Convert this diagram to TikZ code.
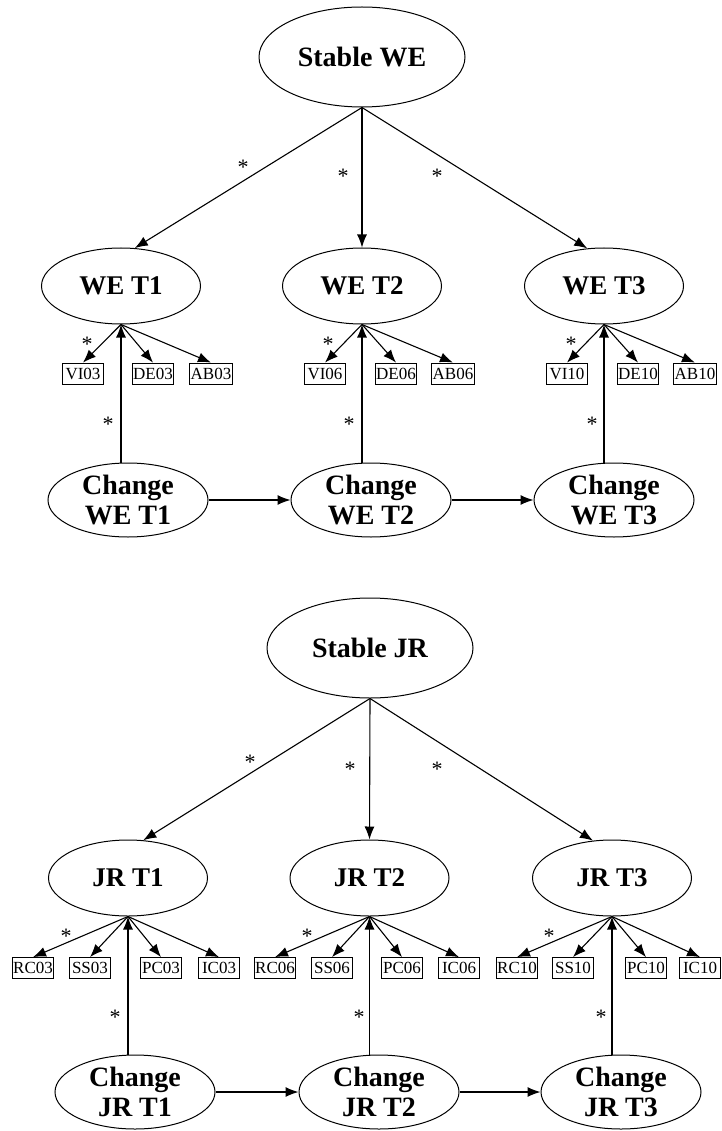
\documentclass[tikz,border=0pt]{standalone}
\usepackage{fontspec}
\setmainfont{Liberation Serif}
\usetikzlibrary{shapes.geometric,arrows.meta}

\begin{document}
\begin{tikzpicture}[x=1pt,y=-1pt]
      \tikzstyle{latent}=[draw,ellipse,line width=1pt,inner sep=0pt,
                          minimum width=159pt,minimum height=76pt,
                          font=\fontsize{27}{30}\selectfont\bfseries]
      \tikzstyle{stable}=[latent,minimum width=206pt,minimum height=100pt,
                          font=\fontsize{28}{30}\selectfont\bfseries]
      \tikzstyle{change}=[latent,minimum width=160pt,minimum height=74pt,
                          inner ysep=-6pt,align=center,
                          font=\fontsize{28}{30}\selectfont\bfseries]
      \tikzstyle{ind}=[draw,rectangle,line width=0.8pt,inner sep=1pt,
                       minimum width=41pt,minimum height=21pt,
                       font=\fontsize{17}{17}\selectfont]
      \tikzstyle{star}=[inner sep=0pt,font=\fontsize{22}{22}\selectfont]
      \tikzstyle{arr}=[line width=1.1pt,-{Latex[length=13pt,width=10pt]}]
      \useasboundingbox (0,0) rectangle (721,1131);

      % work engagement
      \node[stable] (s_we) at (362,57) {Stable WE};
      \node[latent] (we_1) at (121,286) {WE T1};
      \node[latent] (we_2) at (362,286) {WE T2};
      \node[latent] (we_3) at (604,286) {WE T3};

      \node[ind] (vi_03) at (83,373.5) {VI03};
      \node[ind] (de_03) at (153,373.5) {DE03};
      \node[ind] (ab_03) at (211,373.5) {AB03};
      \node[ind] (vi_06) at (325,373.5) {VI06};
      \node[ind] (de_06) at (396,373.5) {DE06};
      \node[ind] (ab_06) at (453,373.5) {AB06};
      \node[ind] (vi_10) at (567,373.5) {VI10};
      \node[ind] (de_10) at (638,373.5) {DE10};
      \node[ind] (ab_10) at (695,373.5) {AB10};

      \node[change] (cwe_1) at (128,500) {Change\\WE T1};
      \node[change] (cwe_2) at (371,500) {Change\\WE T2};
      \node[change] (cwe_3) at (614,500) {Change\\WE T3};

      \draw[arr] (s_we.south) -- (we_1.70);
      \draw[arr] (s_we.south) -- (we_2.north);
      \draw[arr] (s_we.south) -- (we_3.114);
      \node[star] (st_we1) at (243,167) {*};
      \node[star] (st_we2) at (343,176) {*};
      \node[star] (st_we3) at (437,176) {*};

      \draw[arr] (we_1.south) -- (vi_03.north);
      \draw[arr] (we_1.south) -- (de_03.north);
      \draw[arr] (we_1.south) -- (ab_03.north);
      \draw[arr] (we_2.south) -- (vi_06.north);
      \draw[arr] (we_2.south) -- (de_06.north);
      \draw[arr] (we_2.south) -- (ab_06.north);
      \draw[arr] (we_3.south) -- (vi_10.north);
      \draw[arr] (we_3.south) -- (de_10.north);
      \draw[arr] (we_3.south) -- (ab_10.north);
      \node[star] (st_vi03) at (87,344) {*};
      \node[star] (st_vi06) at (328,344) {*};
      \node[star] (st_vi10) at (571,344) {*};

      \draw[arr] (cwe_1.north -| we_1.south) -- (we_1.south);
      \draw[arr] (cwe_2.north -| we_2.south) -- (we_2.south);
      \draw[arr] (cwe_3.north -| we_3.south) -- (we_3.south);
      \node[star] (st_cwe1) at (108,424) {*};
      \node[star] (st_cwe2) at (349,424) {*};
      \node[star] (st_cwe3) at (592,424) {*};

      \draw[arr] (cwe_1) -- (cwe_2);
      \draw[arr] (cwe_2) -- (cwe_3);

      % job resources
      \node[stable] (s_jr) at (370,648) {Stable JR};
      \node[latent] (jr_1) at (128,878) {JR T1};
      \node[latent] (jr_2) at (369.5,878) {JR T2};
      \node[latent] (jr_3) at (612,878) {JR T3};

      \node[ind] (rc_03) at (33,968) {RC03};
      \node[ind] (ss_03) at (90,968) {SS03};
      \node[ind] (pc_03) at (161,968) {PC03};
      \node[ind] (ic_03) at (219,968) {IC03};
      \node[ind] (rc_06) at (275,968) {RC06};
      \node[ind] (ss_06) at (332,968) {SS06};
      \node[ind] (pc_06) at (402,968) {PC06};
      \node[ind] (ic_06) at (459,968) {IC06};
      \node[ind] (rc_10) at (517,968) {RC10};
      \node[ind] (ss_10) at (573,968) {SS10};
      \node[ind] (pc_10) at (646,968) {PC10};
      \node[ind] (ic_10) at (700,968) {IC10};

      \node[change] (cjr_1) at (135,1092) {Change\\JR T1};
      \node[change] (cjr_2) at (379,1092) {Change\\JR T2};
      \node[change] (cjr_3) at (621,1092) {Change\\JR T3};

      \draw[arr] (s_jr.south) -- (jr_1.68);
      \draw[arr] (s_jr.south) -- (jr_2.north);
      \draw[arr] (s_jr.south) -- (jr_3.117);
      \node[star] (st_jr1) at (250,762) {*};
      \node[star] (st_jr2) at (350,769) {*};
      \node[star] (st_jr3) at (437,769) {*};

      \draw[arr] (jr_1.south) -- (rc_03.north);
      \draw[arr] (jr_1.south) -- (ss_03.north);
      \draw[arr] (jr_1.south) -- (pc_03.north);
      \draw[arr] (jr_1.south) -- (ic_03.north);
      \draw[arr] (jr_2.south) -- (rc_06.north);
      \draw[arr] (jr_2.south) -- (ss_06.north);
      \draw[arr] (jr_2.south) -- (pc_06.north);
      \draw[arr] (jr_2.south) -- (ic_06.north);
      \draw[arr] (jr_3.south) -- (rc_10.north);
      \draw[arr] (jr_3.south) -- (ss_10.north);
      \draw[arr] (jr_3.south) -- (pc_10.north);
      \draw[arr] (jr_3.south) -- (ic_10.north);
      \node[star] (st_rc03) at (66,936) {*};
      \node[star] (st_rc06) at (307,936) {*};
      \node[star] (st_rc10) at (549,936) {*};

      \draw[arr] (cjr_1.north -| jr_1.south) -- (jr_1.south);
      \draw[arr] (cjr_2.north -| jr_2.south) -- (jr_2.south);
      \draw[arr] (cjr_3.north -| jr_3.south) -- (jr_3.south);
      \node[star] (st_cjr1) at (115,1017) {*};
      \node[star] (st_cjr2) at (359,1017) {*};
      \node[star] (st_cjr3) at (601,1017) {*};

      \draw[arr] (cjr_1) -- (cjr_2);
      \draw[arr] (cjr_2) -- (cjr_3);
\end{tikzpicture}
\end{document}
